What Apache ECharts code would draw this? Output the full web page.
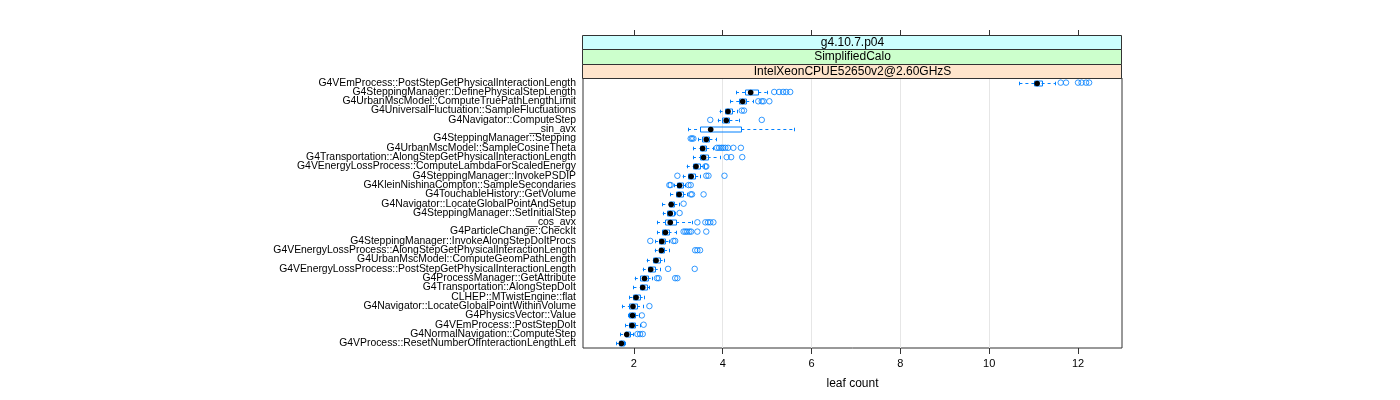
<!DOCTYPE html>
<html><head><meta charset="utf-8">
<script src="https://cdn.jsdelivr.net/npm/echarts@6/dist/echarts.min.js"></script>
<style>html,body{margin:0;padding:0;background:#fff}#c{width:1400px;height:400px}</style>
</head><body><div id="c"></div>
<script>
const categories = [
  'G4VEmProcess::PostStepGetPhysicalInteractionLength',
  'G4SteppingManager::DefinePhysicalStepLength',
  'G4UrbanMscModel::ComputeTruePathLengthLimit',
  'G4UniversalFluctuation::SampleFluctuations',
  'G4Navigator::ComputeStep',
  '__sin_avx',
  'G4SteppingManager::Stepping',
  'G4UrbanMscModel::SampleCosineTheta',
  'G4Transportation::AlongStepGetPhysicalInteractionLength',
  'G4VEnergyLossProcess::ComputeLambdaForScaledEnergy',
  'G4SteppingManager::InvokePSDIP',
  'G4KleinNishinaCompton::SampleSecondaries',
  'G4TouchableHistory::GetVolume',
  'G4Navigator::LocateGlobalPointAndSetup',
  'G4SteppingManager::SetInitialStep',
  '__cos_avx',
  'G4ParticleChange::CheckIt',
  'G4SteppingManager::InvokeAlongStepDoItProcs',
  'G4VEnergyLossProcess::AlongStepGetPhysicalInteractionLength',
  'G4UrbanMscModel::ComputeGeomPathLength',
  'G4VEnergyLossProcess::PostStepGetPhysicalInteractionLength',
  'G4ProcessManager::GetAttribute',
  'G4Transportation::AlongStepDoIt',
  'CLHEP::MTwistEngine::flat',
  'G4Navigator::LocateGlobalPointWithinVolume',
  'G4PhysicsVector::Value',
  'G4VEmProcess::PostStepDoIt',
  'G4NormalNavigation::ComputeStep',
  'G4VProcess::ResetNumberOfInteractionLengthLeft'
];
const whiskerLow  = [10.68,4.30,4.17,3.93,3.89,3.22,3.45,3.33,3.33,3.19,3.10,2.91,2.82,2.64,2.65,2.52,2.52,2.48,2.47,2.29,2.20,2.02,1.99,1.90,1.73,1.87,1.81,1.69,1.60];
const q1          = [11.01,4.51,4.37,4.06,3.98,3.49,3.53,3.48,3.49,3.34,3.23,2.97,2.95,2.78,2.74,2.71,2.63,2.56,2.56,2.43,2.32,2.14,2.13,1.99,1.90,1.90,1.90,1.79,1.66];
const median      = [11.08,4.63,4.45,4.12,4.08,3.73,3.63,3.55,3.57,3.40,3.29,3.03,3.02,2.84,2.82,2.82,2.71,2.63,2.62,2.50,2.38,2.24,2.20,2.05,1.98,1.97,1.96,1.84,1.72];
const q3          = [11.18,4.80,4.53,4.21,4.15,4.42,3.70,3.63,3.66,3.49,3.38,3.10,3.10,2.91,2.91,2.95,2.78,2.71,2.68,2.58,2.47,2.31,2.29,2.13,2.07,2.03,2.03,1.92,1.78];
const whiskerHigh = [11.48,4.99,4.69,4.33,4.36,5.61,3.85,3.79,3.93,3.57,3.49,3.16,3.19,3.01,2.93,3.31,2.95,2.78,2.78,2.67,2.59,2.41,2.35,2.22,2.20,2.11,2.13,1.99,1.81];
const outliers = [
  [11.61,11.73,12.00,12.08,12.18,12.25],
  [5.16,5.27,5.36,5.43,5.52],
  [4.80,4.88,4.92,5.05],
  [4.43,4.48],
  [3.72,4.88],
  [],
  [3.28,3.31,3.34],
  [3.87,3.92,3.97,4.01,4.06,4.12,4.24,4.41],
  [4.09,4.19,4.44],
  [3.61,3.63],
  [2.98,3.63,3.68,4.04],
  [2.80,2.83,3.23,3.28],
  [3.28,3.31,3.57],
  [3.12],
  [3.03],
  [3.43,3.61,3.67,3.72,3.79],
  [3.12,3.16,3.20,3.25,3.29,3.43,3.63],
  [2.37,2.89,2.93],
  [3.38,3.43,3.49],
  [],
  [2.77,3.37],
  [2.52,2.56,2.93,2.98],
  [],
  [],
  [2.35],
  [2.18],
  [2.22],
  [2.08,2.14,2.20],
  []
];
const xTicks = [2, 4, 6, 8, 10, 12];
const stripLabels = ['g4.10.7.p04', 'SimplifiedCalo', 'IntelXeonCPUE52650v2@2.60GHzS'];
const stripColors = ['#ccffff', '#ccffcc', '#ffe5cc'];
const xTitle = 'leaf count';

const FONT = 'Liberation Sans, Arial, Helvetica, sans-serif';
const BLUE = '#0080ff';
const X_MIN = 0.855, X_MAX = 12.99;
const P_LEFT = 583, P_TOP = 78, P_W = 539, P_H = 270;
const S_TOP = 35, S_H = 43;

const boxData = categories.map((c, i) => [i, whiskerLow[i], q1[i], median[i], q3[i], whiskerHigh[i]]);
const outlierData = [];
outliers.forEach((arr, i) => arr.forEach(v => outlierData.push([v, i])));

function px(v) { return Math.round(v) + 0.5; }

function renderBox(params, api) {
  const cat = api.value(0);
  const lo = api.coord([api.value(1), cat]);
  const b1 = api.coord([api.value(2), cat]);
  const md = api.coord([api.value(3), cat]);
  const b3 = api.coord([api.value(4), cat]);
  const hi = api.coord([api.value(5), cat]);
  const y = Math.round(md[1]);
  const bh = 5, eh = 3.5;
  const ls = { stroke: BLUE, lineWidth: 1, fill: null };
  const dash = { stroke: BLUE, lineWidth: 1, lineDash: [3, 3], fill: null };
  return {
    type: 'group',
    children: [
      { type: 'line', shape: { x1: lo[0], y1: y + 0.5, x2: b1[0], y2: y + 0.5 }, style: dash },
      { type: 'line', shape: { x1: b3[0], y1: y + 0.5, x2: hi[0], y2: y + 0.5 }, style: dash },
      { type: 'line', shape: { x1: px(lo[0]), y1: y - eh / 2 + 0.5, x2: px(lo[0]), y2: y + eh / 2 + 0.5 }, style: ls },
      { type: 'line', shape: { x1: px(hi[0]), y1: y - eh / 2 + 0.5, x2: px(hi[0]), y2: y + eh / 2 + 0.5 }, style: ls },
      { type: 'rect', shape: { x: px(b1[0]), y: y - bh / 2 + 0.5, width: Math.max(1, Math.round(b3[0]) - Math.round(b1[0])), height: bh }, style: ls },
      { type: 'circle', shape: { cx: md[0], cy: y + 0.5, r: 2.8 }, style: { fill: '#000', stroke: null } }
    ]
  };
}

const chart = echarts.init(document.getElementById('c'), null, { renderer: 'canvas' });

const graphics = [];
const sh = S_H / 3;
stripLabels.forEach((t, k) => {
  graphics.push({
    type: 'rect', z: 5,
    shape: { x: P_LEFT - 0.5, y: S_TOP + 0.5 + Math.round(k * sh), width: P_W, height: Math.round((k + 1) * sh) - Math.round(k * sh) },
    style: { fill: stripColors[k], stroke: '#333', lineWidth: 1 }
  });
  graphics.push({
    type: 'text', z: 6,
    x: P_LEFT + P_W / 2, y: S_TOP + 0.5 + k * sh + sh / 2,
    style: { text: t, fill: '#000', font: '12px ' + FONT, textAlign: 'center', textVerticalAlign: 'middle' }
  });
});

chart.setOption({
  animation: false,
  backgroundColor: '#fff',
  grid: [
    { left: P_LEFT, top: P_TOP, width: P_W, height: P_H, show: true, borderColor: '#333', borderWidth: 1, backgroundColor: 'transparent', containLabel: false },
    { left: P_LEFT, top: S_TOP, width: P_W, height: S_H, show: false }
  ],
  xAxis: [
    {
      type: 'value', gridIndex: 0, min: X_MIN, max: X_MAX, position: 'bottom',
      axisLine: { show: false },
      axisTick: { show: true, customValues: xTicks, length: 6, lineStyle: { color: '#333' } },
      axisLabel: { customValues: xTicks, color: '#000', fontSize: 11, margin: 10, fontFamily: FONT },
      splitLine: { show: true, showMinLine: false, showMaxLine: false, lineStyle: { color: '#e6e6e6', width: 1 } },
      name: xTitle, nameLocation: 'middle', nameGap: 30,
      nameTextStyle: { color: '#000', fontSize: 12, fontFamily: FONT }
    },
    {
      type: 'value', gridIndex: 1, min: X_MIN, max: X_MAX, position: 'top',
      axisLine: { show: false, onZero: false },
      axisTick: { show: true, customValues: xTicks, length: 5, lineStyle: { color: '#333' } },
      axisLabel: { show: false },
      splitLine: { show: false }
    }
  ],
  yAxis: [
    {
      type: 'category', gridIndex: 0, data: categories, inverse: true,
      axisLine: { show: false }, axisTick: { show: false },
      axisLabel: { interval: 0, color: '#000', fontSize: 10.4, margin: 7, fontFamily: FONT },
      splitLine: { show: false }
    },
    { type: 'value', gridIndex: 1, show: false, min: 0, max: 1 }
  ],
  graphic: graphics,
  series: [
    {
      type: 'custom', xAxisIndex: 0, yAxisIndex: 0, z: 3,
      renderItem: renderBox,
      encode: { x: [1, 2, 3, 4, 5], y: 0 },
      data: boxData, silent: true
    },
    {
      type: 'scatter', xAxisIndex: 0, yAxisIndex: 0, z: 4,
      symbol: 'circle', symbolSize: 5.5,
      itemStyle: { color: 'transparent', borderColor: BLUE, borderWidth: 1 },
      data: outlierData, silent: true
    }
  ]
});
</script></body></html>
